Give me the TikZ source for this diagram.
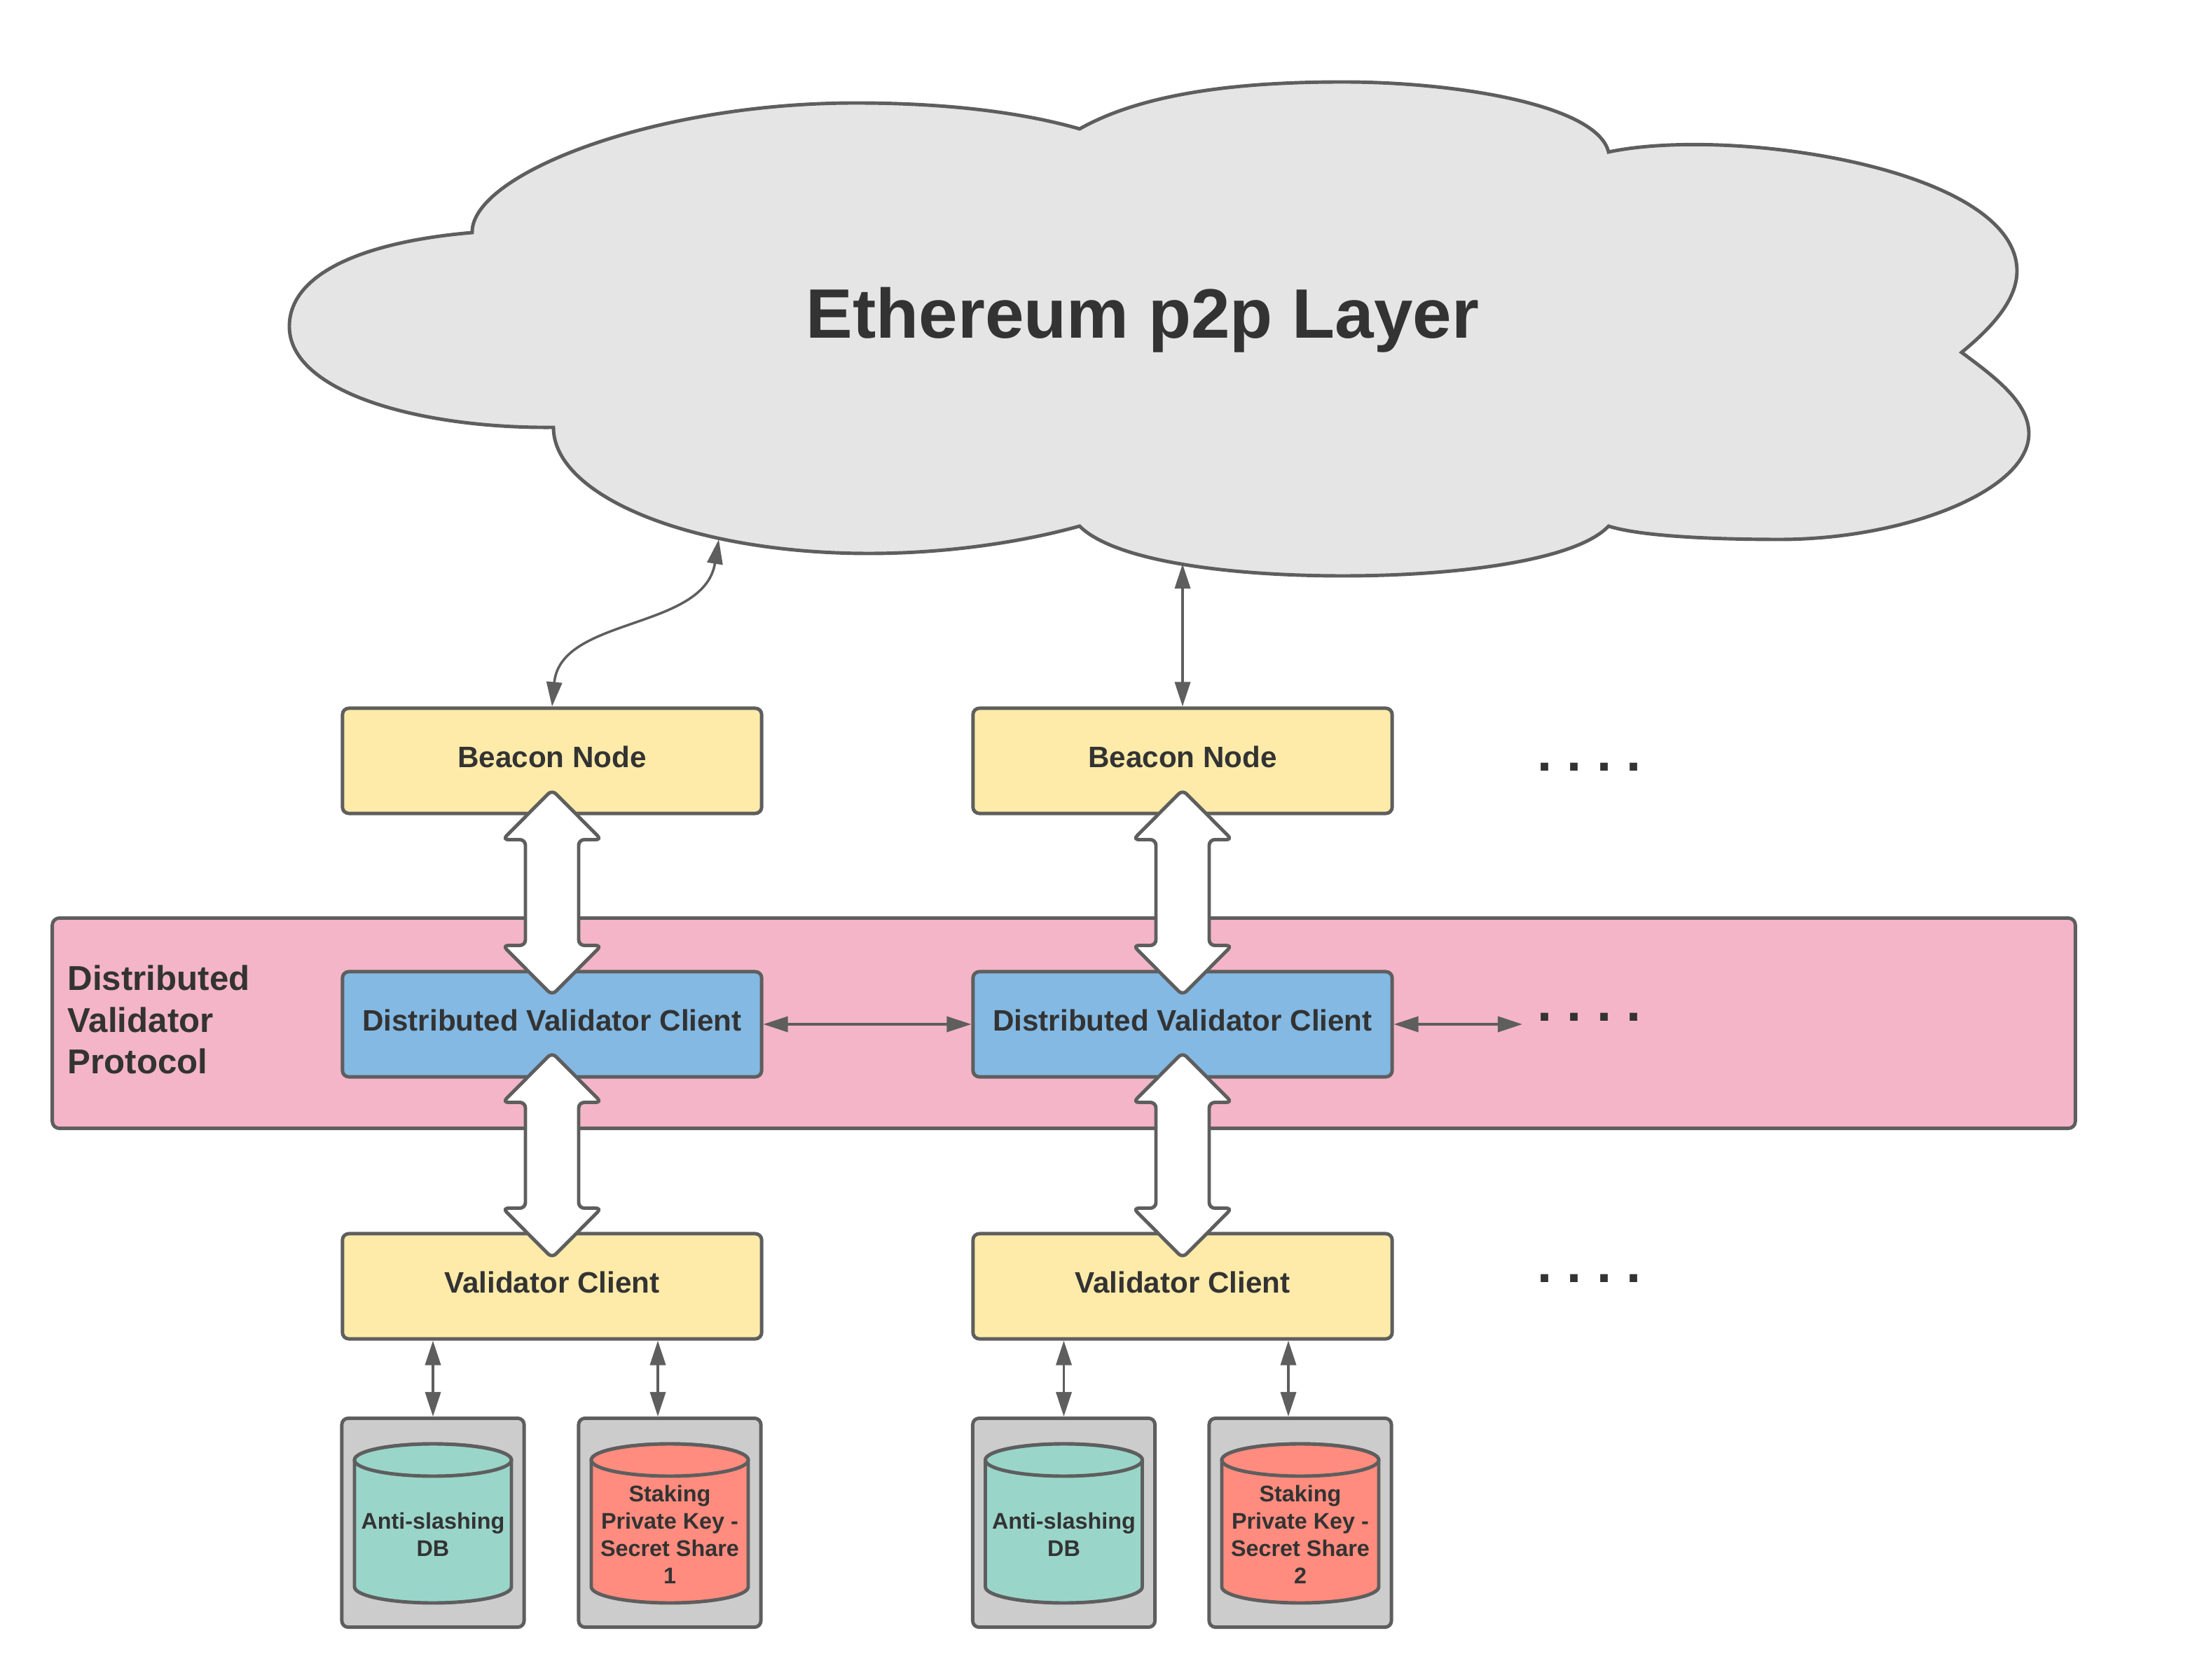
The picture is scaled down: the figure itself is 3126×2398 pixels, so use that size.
\documentclass[tikz,border=0pt]{standalone}
\usepackage{fontspec}
\setmainfont{Liberation Sans}
\usetikzlibrary{arrows.meta,calc}

\definecolor{linegray}{HTML}{5E5E5E}
\definecolor{textgray}{HTML}{333333}
\definecolor{cloudgray}{HTML}{E5E5E5}
\definecolor{beaconyellow}{HTML}{FFEBA9}
\definecolor{dvcblue}{HTML}{83B9E3}
\definecolor{protopink}{HTML}{F3B5C7}
\definecolor{storegray}{HTML}{CCCCCC}
\definecolor{dbteal}{HTML}{9AD5CA}
\definecolor{keysalmon}{HTML}{FF8C7E}

\begin{document}
\begin{tikzpicture}[x=0.01cm,y=-0.01cm,>={Triangle[length=0.35cm,width=0.22cm]},text=textgray,
	block/.style={draw=linegray,line width=1.4pt,rounded corners=0.09cm,minimum width=5.98cm,minimum height=1.5cm,inner sep=0pt,text depth=3.4pt,font=\fontsize{12}{14}\selectfont\bfseries},
	beacon/.style={block,fill=beaconyellow},
	dvc/.style={block,fill=dvcblue},
	store/.style={draw=linegray,line width=1.4pt,rounded corners=0.09cm,fill=storegray,minimum width=2.6cm,minimum height=2.98cm},
	cyl/.style={draw=linegray,line width=1.4pt},
	dbtext/.style={align=center,inner sep=0pt,font=\fontsize{9.2}{11.1}\selectfont\bfseries},
	more/.style={anchor=base west,inner sep=0pt,font=\fontsize{21.6}{24}\selectfont\bfseries\frenchspacing},
	link/.style={<->,draw=linegray,line width=1pt},
	pics/bigarrow/.style={code={
		\draw[draw=linegray,fill=white,line width=1.4pt,rounded corners=0.08cm] (0,-146.5) -- (70.5,-75.5) -- (38,-75.5) -- (38,75.5) -- (70.5,75.5) -- (0,146.5) -- (-70.5,75.5) -- (-38,75.5) -- (-38,-75.5) -- (-70.5,-75.5) -- cycle;}}]

	\useasboundingbox (0,0) rectangle (3126,2398);

	%cloud
	\draw[draw=linegray,fill=cloudgray,line width=1.4pt] (674,332) .. controls (672,250) and (930,147) .. (1221,147)
		.. controls (1333,147) and (1447,157) .. (1541,184)
		.. controls (1640,128) and (1790,117) .. (1917,117)
		.. controls (2080,117) and (2280,150) .. (2296,217)
		.. controls (2470,180) and (2879,240) .. (2879,387)
		.. controls (2879,430) and (2840,470) .. (2800,503)
		.. controls (2850,540) and (2896,575) .. (2896,619)
		.. controls (2896,700) and (2720,770) .. (2540,770)
		.. controls (2440,770) and (2340,765) .. (2296,751)
		.. controls (2250,800) and (2080,822) .. (1917,822)
		.. controls (1750,822) and (1590,800) .. (1541,751)
		.. controls (1458,774) and (1351,790) .. (1240,790)
		.. controls (990,790) and (790,709) .. (790,610)
		.. controls (600,612) and (413,560) .. (413,466)
		.. controls (413,390) and (520,345) .. (674,332) -- cycle;
	\node[anchor=base,inner sep=0pt,font=\fontsize{28.4}{32}\selectfont\bfseries] (p2p) at (1631,483) {Ethereum p2p Layer};
	\coordinate (cloudL) at (1026,770);
	\coordinate (cloudR) at (1688,805);

	%protocol band
	\node[draw=linegray,fill=protopink,line width=1.4pt,rounded corners=0.1cm,minimum width=28.86cm,minimum height=3cm] (dvp) at (1518.5,1460.5) {};
	\node[anchor=north west,align=left,inner sep=0pt,font=\fontsize{14}{17}\selectfont\bfseries] (dvplabel) at (96,1377) {Distributed\\Validator\\Protocol};

	%nodes
	\node[beacon] (bn1) at (788,1086) {Beacon Node};
	\node[beacon] (bn2) at (1688,1086) {Beacon Node};
	\node[dvc] (dvc1) at (788,1462) {Distributed Validator Client};
	\node[dvc] (dvc2) at (1688,1462) {Distributed Validator Client};
	\node[beacon] (vc1) at (788,1836) {Validator Client};
	\node[beacon] (vc2) at (1688,1836) {Validator Client};

	\node[more] (bnmore) at (2194,1100.5) {. . . .};
	\node[more] (dvcmoredots) at (2194,1457.5) {. . . .};
	\node[more] (vcmore) at (2194,1830.5) {. . . .};
	\coordinate (dvcmore) at (2173,1462);

	%wide arrows
	\pic at ($(bn1.south)!0.5!(dvc1.north)$) {bigarrow};
	\pic at ($(bn2.south)!0.5!(dvc2.north)$) {bigarrow};
	\pic at ($(dvc1.south)!0.5!(vc1.north)$) {bigarrow};
	\pic at ($(dvc2.south)!0.5!(vc2.north)$) {bigarrow};

	%storage
	\node[store] (st1) at (618,2173.5) {};
	\node[store] (st2) at (956,2173.5) {};
	\node[store] (st3) at (1518.5,2173.5) {};
	\node[store] (st4) at (1856,2173.5) {};

	\draw[cyl,fill=dbteal] (506,2084) -- (506,2265) arc[start angle=180,end angle=0,x radius=112,y radius=23] -- (730,2084) arc[start angle=0,end angle=-180,x radius=112,y radius=23] -- cycle;
	\draw[cyl,fill=dbteal] (618,2084) ellipse[x radius=112,y radius=23];
	\draw[cyl,fill=keysalmon] (844,2084) -- (844,2265) arc[start angle=180,end angle=0,x radius=112,y radius=23] -- (1068,2084) arc[start angle=0,end angle=-180,x radius=112,y radius=23] -- cycle;
	\draw[cyl,fill=keysalmon] (956,2084) ellipse[x radius=112,y radius=23];
	\draw[cyl,fill=dbteal] (1406.5,2084) -- (1406.5,2265) arc[start angle=180,end angle=0,x radius=112,y radius=23] -- (1630.5,2084) arc[start angle=0,end angle=-180,x radius=112,y radius=23] -- cycle;
	\draw[cyl,fill=dbteal] (1518.5,2084) ellipse[x radius=112,y radius=23];
	\draw[cyl,fill=keysalmon] (1744,2084) -- (1744,2265) arc[start angle=180,end angle=0,x radius=112,y radius=23] -- (1968,2084) arc[start angle=0,end angle=-180,x radius=112,y radius=23] -- cycle;
	\draw[cyl,fill=keysalmon] (1856,2084) ellipse[x radius=112,y radius=23];

	\node[dbtext] (db1) at (618,2190) {Anti-slashing\\DB};
	\node[dbtext] (key1) at (956,2190) {Staking\\Private Key -\\Secret Share\\1};
	\node[dbtext] (db2) at (1518.5,2190) {Anti-slashing\\DB};
	\node[dbtext] (key2) at (1856,2190) {Staking\\Private Key -\\Secret Share\\2};

	%edges
	\draw[link] (bn1.north) .. controls (800,880) and (1005,900) .. (cloudL);
	\draw[link] (bn2.north) -- (cloudR);
	\draw[link] (dvc1.east) -- (dvc2.west);
	\draw[link] (dvc2.east) -- (dvcmore);
	\coordinate (key1in) at ($(st2.north)+(-17,0)$);
	\coordinate (key2in) at ($(st4.north)+(-17,0)$);
	\draw[link] (vc1.south -| st1.north) -- (st1.north);
	\draw[link] (key1in |- vc1.south) -- (key1in);
	\draw[link] (vc2.south -| st3.north) -- (st3.north);
	\draw[link] (key2in |- vc2.south) -- (key2in);

\end{tikzpicture}
\end{document}
